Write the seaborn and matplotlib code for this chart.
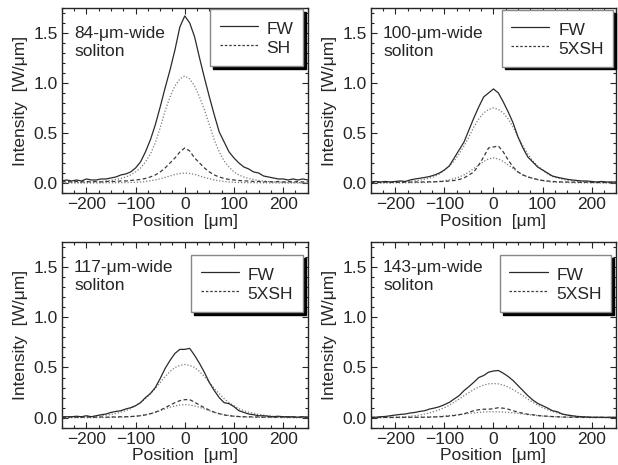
import numpy as np
import matplotlib
matplotlib.use("Agg")
import matplotlib.pyplot as plt
from matplotlib.lines import Line2D
import seaborn as sns

# positions (um), every 10 um
pos = np.arange(-250, 251, 10)

widths = [84, 100, 117, 143]
sh_labels = ["SH", "5XSH", "5XSH", "5XSH"]

# panel 1: 84-um-wide soliton
fw84 = [0.02, 0.03, 0.02, 0.03, 0.02, 0.04, 0.03, 0.03, 0.04, 0.04, 0.05,
        0.06, 0.08, 0.09, 0.11, 0.15, 0.21, 0.31, 0.43, 0.58, 0.76, 0.95,
        1.13, 1.33, 1.56, 1.67, 1.60, 1.46, 1.25, 1.05, 0.86, 0.68, 0.51,
        0.41, 0.31, 0.25, 0.20, 0.16, 0.14, 0.11, 0.10, 0.07, 0.06, 0.05,
        0.04, 0.04, 0.03, 0.04, 0.03, 0.04, 0.03]
fwt84 = [0.0, 0.0, 0.005, 0.005, 0.005, 0.005, 0.01, 0.01, 0.015, 0.02, 0.025,
         0.035, 0.045, 0.06, 0.08, 0.11, 0.15, 0.21, 0.29, 0.40, 0.55, 0.72,
         0.86, 0.97, 1.04, 1.07, 1.04, 0.97, 0.86, 0.73, 0.58, 0.43, 0.31,
         0.22, 0.16, 0.11, 0.08, 0.06, 0.045, 0.035, 0.025, 0.02, 0.015, 0.01,
         0.01, 0.005, 0.005, 0.005, 0.005, 0.0, 0.0]
sh84 = [0.01, 0.015, 0.01, 0.015, 0.01, 0.015, 0.01, 0.015, 0.01, 0.015, 0.015,
        0.015, 0.02, 0.02, 0.025, 0.03, 0.035, 0.045, 0.06, 0.08, 0.11, 0.15,
        0.20, 0.25, 0.31, 0.35, 0.32, 0.25, 0.20, 0.15, 0.11, 0.08, 0.06,
        0.045, 0.035, 0.03, 0.025, 0.02, 0.02, 0.015, 0.015, 0.01, 0.015, 0.01,
        0.015, 0.01, 0.015, 0.01, 0.015, 0.01, 0.015]
sht84 = [0.0, 0.0, 0.0, 0.0, 0.0, 0.0, 0.0, 0.001, 0.001, 0.002, 0.002,
         0.003, 0.003, 0.004, 0.005, 0.007, 0.01, 0.015, 0.022, 0.03, 0.042, 0.055,
         0.07, 0.085, 0.095, 0.10, 0.095, 0.085, 0.07, 0.055, 0.042, 0.03, 0.022,
         0.015, 0.01, 0.007, 0.005, 0.004, 0.003, 0.003, 0.002, 0.002, 0.001, 0.001,
         0.0, 0.0, 0.0, 0.0, 0.0, 0.0, 0.0]

# panel 2: 100-um-wide soliton
fw100 = [0.01, 0.015, 0.01, 0.015, 0.01, 0.015, 0.02, 0.015, 0.03, 0.04, 0.047,
         0.055, 0.065, 0.08, 0.10, 0.13, 0.17, 0.25, 0.33, 0.41, 0.53, 0.65,
         0.76, 0.86, 0.90, 0.94, 0.90, 0.81, 0.71, 0.60, 0.46, 0.35, 0.26,
         0.21, 0.16, 0.13, 0.10, 0.07, 0.057, 0.047, 0.037, 0.03, 0.025, 0.02,
         0.02, 0.015, 0.01, 0.015, 0.01, 0.01, 0.01]
fwt100 = [0.002, 0.003, 0.003, 0.004, 0.005, 0.007, 0.009, 0.012, 0.016, 0.022, 0.028,
          0.037, 0.05, 0.065, 0.09, 0.13, 0.17, 0.22, 0.29, 0.37, 0.46, 0.56,
          0.64, 0.70, 0.735, 0.75, 0.735, 0.70, 0.64, 0.56, 0.46, 0.37, 0.29,
          0.22, 0.17, 0.13, 0.09, 0.065, 0.05, 0.037, 0.028, 0.022, 0.016, 0.012,
          0.009, 0.007, 0.005, 0.004, 0.003, 0.003, 0.002]
sh100 = [0.005, 0.008, 0.005, 0.008, 0.005, 0.008, 0.005, 0.008, 0.008, 0.01, 0.01,
         0.01, 0.012, 0.012, 0.015, 0.015, 0.02, 0.025, 0.035, 0.05, 0.08, 0.11,
         0.18, 0.26, 0.35, 0.36, 0.37, 0.31, 0.23, 0.16, 0.11, 0.08, 0.06,
         0.047, 0.035, 0.025, 0.02, 0.015, 0.012, 0.01, 0.01, 0.008, 0.008, 0.005,
         0.008, 0.005, 0.005, 0.005, 0.005, 0.005, 0.005]
sht100 = [0.0, 0.0, 0.0, 0.0, 0.0, 0.001, 0.001, 0.002, 0.002, 0.003, 0.004,
          0.005, 0.007, 0.01, 0.015, 0.022, 0.032, 0.045, 0.06, 0.08, 0.11, 0.145,
          0.18, 0.215, 0.24, 0.25, 0.24, 0.215, 0.18, 0.145, 0.11, 0.08, 0.06,
          0.045, 0.032, 0.022, 0.015, 0.01, 0.007, 0.005, 0.004, 0.003, 0.002, 0.002,
          0.001, 0.001, 0.0, 0.0, 0.0, 0.0, 0.0]

# panel 3: 117-um-wide soliton
fw117 = [0.01, 0.01, 0.01, 0.015, 0.01, 0.02, 0.01, 0.02, 0.03, 0.037, 0.053,
         0.063, 0.07, 0.087, 0.10, 0.12, 0.15, 0.20, 0.24, 0.30, 0.39, 0.49,
         0.57, 0.64, 0.68, 0.68, 0.69, 0.62, 0.54, 0.45, 0.35, 0.27, 0.20,
         0.15, 0.14, 0.11, 0.07, 0.053, 0.037, 0.03, 0.02, 0.02, 0.015, 0.01,
         0.015, 0.01, 0.01, 0.01, 0.005, 0.01, 0.005]
fwt117 = [0.002, 0.003, 0.004, 0.005, 0.006, 0.008, 0.011, 0.015, 0.02, 0.026, 0.033,
          0.043, 0.055, 0.07, 0.09, 0.12, 0.15, 0.19, 0.24, 0.29, 0.35, 0.41,
          0.46, 0.50, 0.52, 0.53, 0.52, 0.50, 0.46, 0.41, 0.35, 0.29, 0.24,
          0.19, 0.15, 0.12, 0.09, 0.07, 0.055, 0.043, 0.033, 0.026, 0.02, 0.015,
          0.011, 0.008, 0.006, 0.005, 0.004, 0.003, 0.002]
sh117 = [0.005, 0.005, 0.008, 0.005, 0.005, 0.008, 0.005, 0.005, 0.008, 0.005, 0.008,
         0.008, 0.01, 0.01, 0.012, 0.015, 0.02, 0.028, 0.04, 0.055, 0.075, 0.10,
         0.125, 0.15, 0.17, 0.18, 0.18, 0.155, 0.125, 0.10, 0.075, 0.055, 0.04,
         0.028, 0.02, 0.015, 0.012, 0.01, 0.01, 0.008, 0.008, 0.005, 0.008, 0.005,
         0.005, 0.008, 0.005, 0.005, 0.005, 0.008, 0.005]
sht117 = [0.0, 0.0, 0.0, 0.0, 0.001, 0.001, 0.001, 0.002, 0.002, 0.003, 0.003,
          0.004, 0.006, 0.008, 0.011, 0.016, 0.022, 0.03, 0.041, 0.054, 0.07, 0.088,
          0.104, 0.118, 0.127, 0.13, 0.127, 0.118, 0.104, 0.088, 0.07, 0.054, 0.041,
          0.03, 0.022, 0.016, 0.011, 0.008, 0.006, 0.004, 0.003, 0.003, 0.002, 0.002,
          0.001, 0.001, 0.001, 0.0, 0.0, 0.0, 0.0]

# panel 4: 143-um-wide soliton
fw143 = [0.005, 0.005, 0.01, 0.013, 0.02, 0.027, 0.033, 0.037, 0.047, 0.053, 0.063,
         0.07, 0.087, 0.097, 0.11, 0.13, 0.153, 0.187, 0.22, 0.27, 0.31, 0.353,
         0.40, 0.42, 0.453, 0.465, 0.47, 0.443, 0.41, 0.37, 0.32, 0.27, 0.22,
         0.177, 0.143, 0.12, 0.097, 0.07, 0.06, 0.037, 0.027, 0.02, 0.013, 0.01,
         0.008, 0.005, 0.005, 0.005, 0.003, 0.005, 0.003]
fwt143 = [0.002, 0.003, 0.003, 0.004, 0.005, 0.006, 0.008, 0.011, 0.015, 0.02, 0.028,
          0.037, 0.048, 0.063, 0.08, 0.10, 0.125, 0.155, 0.185, 0.22, 0.25, 0.28,
          0.305, 0.325, 0.337, 0.34, 0.337, 0.325, 0.305, 0.28, 0.25, 0.22, 0.185,
          0.155, 0.125, 0.10, 0.08, 0.063, 0.048, 0.037, 0.028, 0.02, 0.015, 0.011,
          0.008, 0.006, 0.005, 0.004, 0.003, 0.003, 0.002]
sh143 = [0.003, 0.003, 0.003, 0.004, 0.003, 0.004, 0.004, 0.004, 0.005, 0.005, 0.005,
         0.005, 0.006, 0.008, 0.01, 0.012, 0.017, 0.022, 0.03, 0.04, 0.055, 0.07,
         0.08, 0.085, 0.085, 0.09, 0.10, 0.095, 0.085, 0.07, 0.055, 0.045, 0.035,
         0.03, 0.022, 0.018, 0.015, 0.012, 0.01, 0.008, 0.006, 0.005, 0.005, 0.004,
         0.004, 0.003, 0.003, 0.003, 0.003, 0.003, 0.003]
sht143 = [0.001, 0.001, 0.001, 0.001, 0.001, 0.001, 0.001, 0.002, 0.002, 0.004, 0.005,
          0.006, 0.008, 0.01, 0.013, 0.017, 0.021, 0.026, 0.031, 0.037, 0.043, 0.048,
          0.053, 0.057, 0.059, 0.06, 0.059, 0.057, 0.053, 0.048, 0.043, 0.037, 0.031,
          0.026, 0.021, 0.017, 0.013, 0.01, 0.008, 0.006, 0.005, 0.004, 0.002, 0.002,
          0.001, 0.001, 0.001, 0.001, 0.001, 0.001, 0.001]

fw_meas = [fw84, fw100, fw117, fw143]
fw_theo = [fwt84, fwt100, fwt117, fwt143]
sh_meas = [sh84, sh100, sh117, sh143]
sh_theo = [sht84, sht100, sht117, sht143]

sns.set_style("ticks")
plt.rcParams['font.family'] = ['Liberation Sans', 'DejaVu Sans']
plt.rcParams['font.size'] = 12.5
plt.rcParams['axes.linewidth'] = 1.0

fig = plt.figure(figsize=(6.18, 4.65), dpi=100)
boxes = [[0.100, 0.585, 0.398, 0.398],
         [0.600, 0.585, 0.397, 0.398],
         [0.100, 0.080, 0.398, 0.400],
         [0.600, 0.080, 0.397, 0.400]]
leg_anchor = [(0.98, 0.995), (0.988, 0.99), (0.98, 0.93), (0.98, 0.93)]

solid_c = "#2a2a2a"
dash_c = "#3a3a3a"
dot_c = "#7a7a7a"

for i in range(4):
    ax = fig.add_axes(boxes[i])
    sns.lineplot(x=pos, y=fw_theo[i], ax=ax, color=dot_c, lw=0.9,
                 linestyle=(0, (1, 1.5)), estimator=None, legend=False)
    sns.lineplot(x=pos, y=sh_theo[i], ax=ax, color=dot_c, lw=0.9,
                 linestyle=(0, (1, 1.5)), estimator=None, legend=False)
    sns.lineplot(x=pos, y=sh_meas[i], ax=ax, color=dash_c, lw=0.9,
                 linestyle=(0, (3, 2)), estimator=None, legend=False)
    sns.lineplot(x=pos, y=fw_meas[i], ax=ax, color=solid_c, lw=0.9,
                 estimator=None, legend=False)

    ax.set_xlim(-250, 250)
    ax.set_ylim(-0.1, 1.75)
    ax.set_xticks([-200, -100, 0, 100, 200])
    ax.set_xticks(np.arange(-250, 251, 25), minor=True)
    ax.set_yticks([0.0, 0.5, 1.0, 1.5])
    ax.set_yticks(np.arange(-0.1, 1.751, 0.1), minor=True)
    ax.yaxis.set_major_formatter(matplotlib.ticker.FormatStrFormatter('%.1f'))
    ax.tick_params(which='both', direction='in', top=True, right=True)
    ax.tick_params(which='major', length=4, width=0.8, pad=3)
    ax.tick_params(which='minor', length=2, width=0.8)
    ax.set_xlabel("Position  [μm]", labelpad=1)
    ax.set_ylabel("Intensity  [W/μm]", labelpad=4)

    ax.text(0.05, 0.90, f"{widths[i]}-μm-wide\nsoliton", transform=ax.transAxes,
            ha='left', va='top', linespacing=1.25)

    handles = [Line2D([], [], color=solid_c, lw=0.9),
               Line2D([], [], color=dash_c, lw=0.9, linestyle=(0, (2, 1.5)))]
    leg = ax.legend(handles, ["FW", sh_labels[i]], loc='upper right',
                    bbox_to_anchor=leg_anchor[i], borderaxespad=0,
                    fancybox=False, shadow={'color': 'k', 'alpha': 1},
                    framealpha=1, edgecolor='#888888', handlelength=2.2,
                    handleheight=1.3, handletextpad=0.5, borderpad=0.55,
                    labelspacing=0.0)
    leg.get_frame().set_linewidth(1.0)

fig.savefig("out.png", dpi=100)
